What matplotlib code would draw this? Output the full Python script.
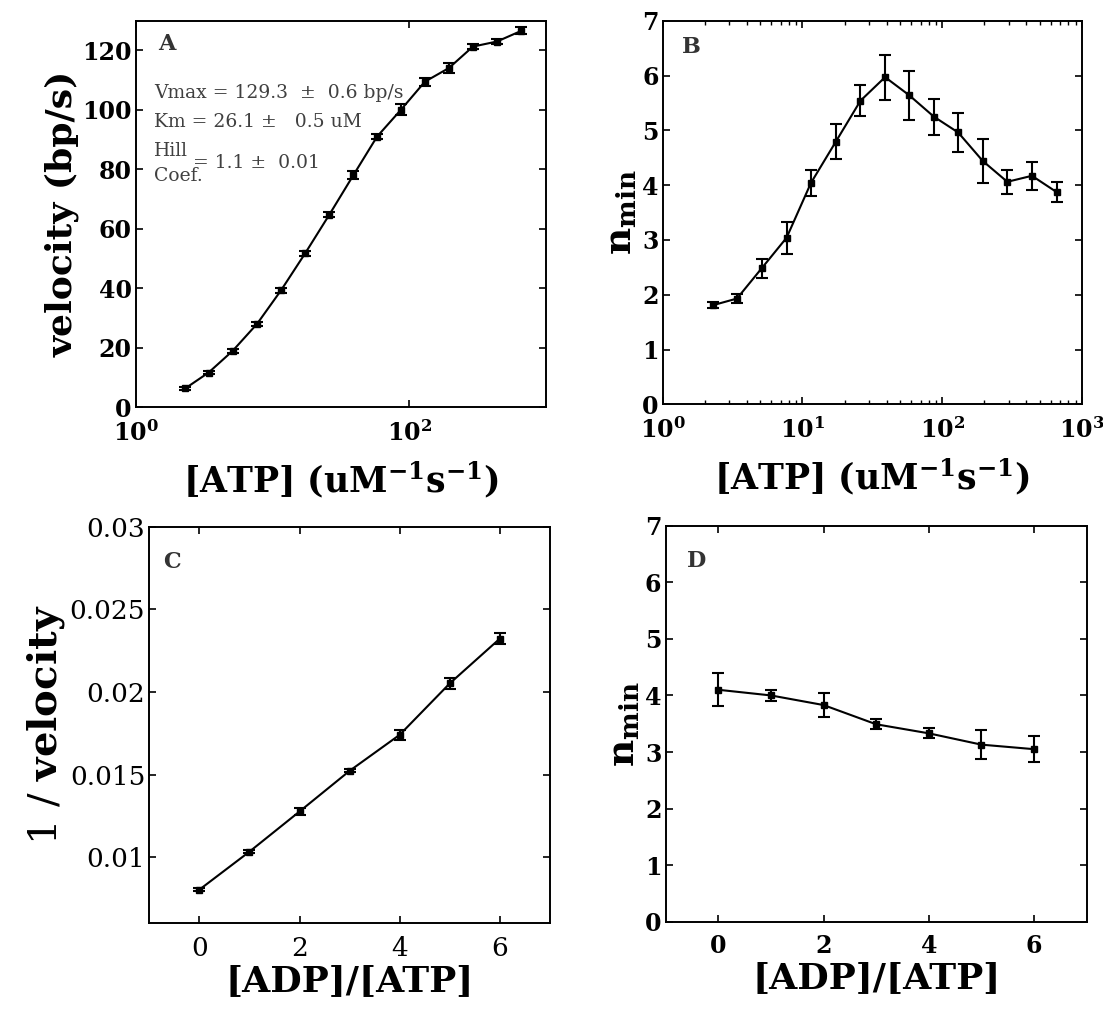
import matplotlib
matplotlib.use("Agg")
import matplotlib.pyplot as plt
from matplotlib.ticker import NullLocator, LogLocator, NullFormatter

plt.rcParams['font.family'] = 'DejaVu Serif'
plt.rcParams['mathtext.fontset'] = 'dejavuserif'

# ---- data ----
atp = [2.3, 3.4, 5.1, 7.7, 11.5, 17.3, 26, 39, 58, 87, 130, 195, 292, 438, 660]

vel = [6.4, 11.7, 19.0, 28.1, 39.3, 51.8, 64.8, 78.1, 91.0, 100.1, 109.5, 114.1, 121.3, 123.0, 126.6]
vel_err = [0.6, 0.6, 0.7, 0.7, 0.7, 0.8, 0.9, 1.2, 0.8, 1.8, 1.3, 1.8, 0.9, 1.0, 1.2]

nmin_atp = [1.81, 1.93, 2.48, 3.04, 4.04, 4.79, 5.54, 5.97, 5.64, 5.25, 4.96, 4.44, 4.06, 4.17, 3.87]
nmin_atp_err = [0.06, 0.09, 0.17, 0.29, 0.24, 0.32, 0.28, 0.41, 0.45, 0.33, 0.36, 0.40, 0.22, 0.26, 0.18]

adp_ratio = [0, 1, 2, 3, 4, 5, 6]
inv_vel = [0.00804, 0.01034, 0.01277, 0.01523, 0.01741, 0.02052, 0.02323]
inv_vel_err = [0.0001, 0.0001, 0.0002, 0.0001, 0.0003, 0.00035, 0.00035]

nmin_adp = [4.10, 4.00, 3.83, 3.49, 3.33, 3.13, 3.05]
nmin_adp_err = [0.29, 0.10, 0.21, 0.09, 0.09, 0.26, 0.23]

LBL = 25
TCK = 17


def style_axes(ax, bold_ticks=True, tsize=TCK):
    ax.tick_params(direction='in', top=True, right=True, length=5, width=1.2,
                   labelsize=tsize)
    ax.tick_params(axis='x', pad=9)
    ax.tick_params(axis='y', pad=3)
    ax.tick_params(which='minor', direction='in', top=True, right=True, length=3, width=1)
    for sp in ax.spines.values():
        sp.set_linewidth(1.4)
    w = 'bold' if bold_ticks else 'normal'
    for t in ax.get_xticklabels() + ax.get_yticklabels():
        t.set_fontweight(w)


def draw(ax, x, y, err):
    ax.errorbar(x, y, yerr=err, color='black', lw=1.5, marker='s', ms=4,
                capsize=4, elinewidth=1.5, capthick=1.5)


fig = plt.figure(figsize=(11.03, 10.10), dpi=100)

# A
axA = fig.add_axes([0.1233, 0.5967, 0.3717, 0.3828])
draw(axA, atp, vel, vel_err)
axA.set_xscale('log')
axA.set_xlim(1, 1000)
axA.set_ylim(0, 130)
axA.set_xticks([1, 100])
axA.set_xticklabels([r'$\mathbf{10^{0}}$', r'$\mathbf{10^{2}}$'])
axA.xaxis.set_minor_locator(NullLocator())
axA.set_yticks(range(0, 121, 20))
style_axes(axA)
axA.set_ylabel('velocity (bp/s)', fontsize=LBL + 1, fontweight='bold', labelpad=2)
axA.set_xlabel(r'[ATP] (uM$^{\mathbf{-1}}$s$^{\mathbf{-1}}$)', fontsize=LBL,
               fontweight='bold', labelpad=10)
axA.text(0.055, 0.925, 'A', transform=axA.transAxes, fontsize=16, fontweight='bold',
         color='#333333')
ann = dict(transform=axA.transAxes, fontsize=13.5, color='#404040')
axA.text(0.045, 0.80, 'Vmax = 129.3  \u00b1  0.6 bp/s', **ann)
axA.text(0.045, 0.725, 'Km = 26.1 \u00b1   0.5 uM', **ann)
axA.text(0.045, 0.65, 'Hill', **ann)
axA.text(0.045, 0.585, 'Coef.', **ann)
axA.text(0.14, 0.62, '= 1.1 \u00b1  0.01', **ann)

# B
axB = fig.add_axes([0.6008, 0.5997, 0.3802, 0.3798])
draw(axB, atp, nmin_atp, nmin_atp_err)
axB.set_xscale('log')
axB.set_xlim(1, 1000)
axB.set_ylim(0, 7)
axB.set_xticks([1, 10, 100, 1000])
axB.set_xticklabels([r'$\mathbf{10^{0}}$', r'$\mathbf{10^{1}}$',
                     r'$\mathbf{10^{2}}$', r'$\mathbf{10^{3}}$'])
axB.xaxis.set_minor_locator(LogLocator(base=10, subs=range(2, 10)))
axB.xaxis.set_minor_formatter(NullFormatter())
axB.set_yticks(range(0, 8))
style_axes(axB)
axB.set_ylabel(r'$\mathbf{n_{min}}$', fontsize=LBL + 2, labelpad=2)
axB.set_xlabel(r'[ATP] (uM$^{\mathbf{-1}}$s$^{\mathbf{-1}}$)', fontsize=LBL,
               fontweight='bold', labelpad=10)
axB.text(0.045, 0.915, 'B', transform=axB.transAxes, fontsize=16, fontweight='bold',
         color='#333333')

# C
axC = fig.add_axes([0.1354, 0.0858, 0.3632, 0.3927])
draw(axC, adp_ratio, inv_vel, inv_vel_err)
axC.set_xlim(-1, 7)
axC.set_ylim(0.006, 0.03)
axC.set_xticks([0, 2, 4, 6])
axC.set_yticks([0.01, 0.015, 0.02, 0.025, 0.03])
axC.set_yticklabels(['0.01', '0.015', '0.02', '0.025', '0.03'])
style_axes(axC, bold_ticks=False, tsize=19)
axC.set_ylabel(r'$\mathrm{1\ /\ }\mathbf{velocity}$', fontsize=LBL + 4, labelpad=2)
axC.set_xlabel('[ADP]/[ATP]', fontsize=LBL + 1, fontweight='bold', labelpad=2)
axC.text(0.035, 0.895, 'C', transform=axC.transAxes, fontsize=16, fontweight='bold',
         color='#333333')

# D
axD = fig.add_axes([0.6035, 0.0874, 0.3817, 0.3921])
draw(axD, adp_ratio, nmin_adp, nmin_adp_err)
axD.set_xlim(-1, 7)
axD.set_ylim(0, 7)
axD.set_xticks([0, 2, 4, 6])
axD.set_yticks(range(0, 8))
style_axes(axD)
axD.set_ylabel(r'$\mathbf{n_{min}}$', fontsize=LBL + 2, labelpad=2)
axD.set_xlabel('[ADP]/[ATP]', fontsize=LBL + 1, fontweight='bold', labelpad=2)
axD.text(0.05, 0.895, 'D', transform=axD.transAxes, fontsize=16, fontweight='bold',
         color='#333333')

fig.savefig('out.png', dpi=100)
